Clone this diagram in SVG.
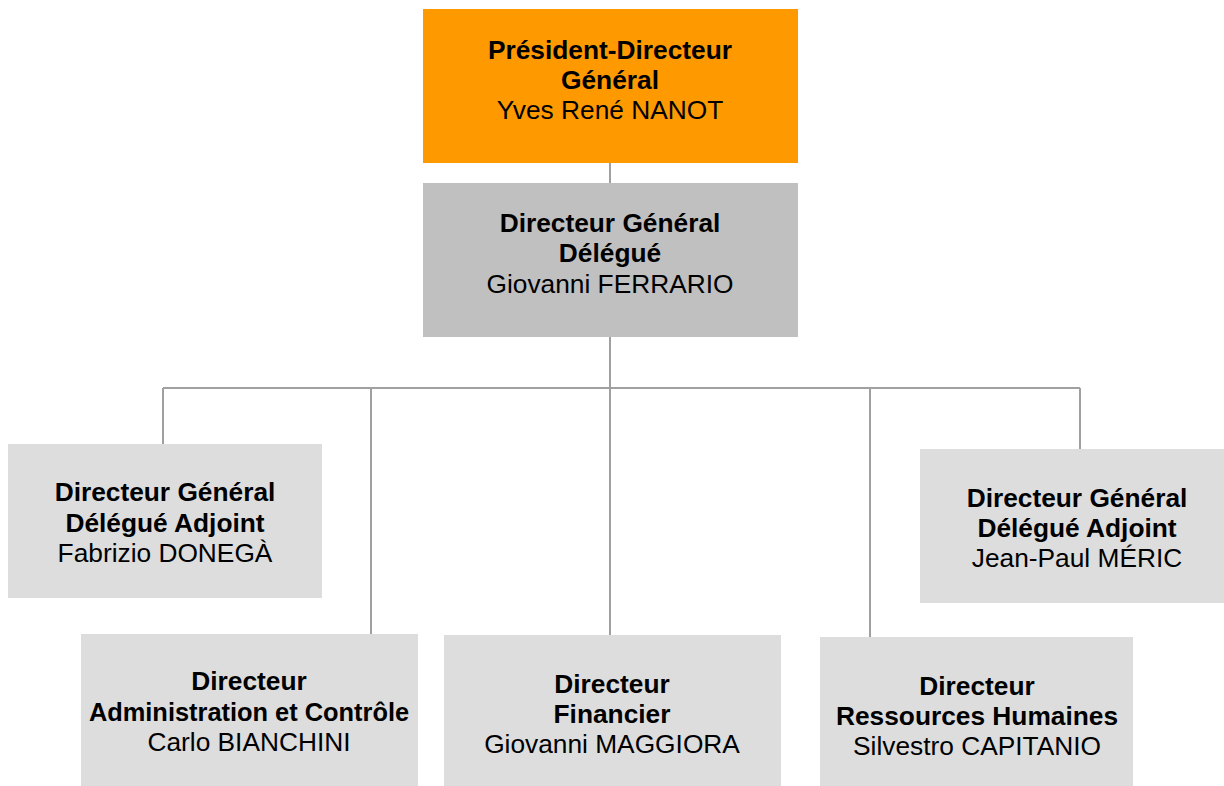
<svg xmlns="http://www.w3.org/2000/svg" width="1224" height="786" viewBox="0 0 1224 786">
<style>
.lv{fill:#DDDDDD}
.t{font-family:"Liberation Sans",Arial,sans-serif;font-size:26.3px;fill:#000;text-anchor:middle}
.b{font-weight:bold}
.c{stroke:#A0A0A0;stroke-width:2;fill:none}
</style>
<rect width="1224" height="786" fill="#fff"/>
<g id="connectors">
<line class="c" x1="610" y1="163" x2="610" y2="183"/>
<line class="c" x1="610" y1="337" x2="610" y2="635"/>
<line class="c" x1="163" y1="388" x2="1080" y2="388"/>
<line class="c" x1="163" y1="388" x2="163" y2="444"/>
<line class="c" x1="371" y1="388" x2="371" y2="634"/>
<line class="c" x1="870" y1="388" x2="870" y2="637"/>
<line class="c" x1="1080" y1="388" x2="1080" y2="449"/>
</g>
<g id="pdg">
<rect x="423" y="9" width="375" height="154" fill="#FF9900"/>
<text class="t b" x="610" y="59">Président-Directeur</text>
<text class="t b" x="610" y="89">Général</text>
<text class="t" x="610" y="119">Yves René NANOT</text>
</g>
<g id="dgd">
<rect x="423" y="183" width="375" height="154" fill="#C0C0C0"/>
<text class="t b" x="610" y="232">Directeur Général</text>
<text class="t b" x="610" y="262">Délégué</text>
<text class="t" x="610" y="293">Giovanni FERRARIO</text>
</g>
<g id="dgda1">
<rect class="lv" x="8" y="444" width="314" height="154"/>
<text class="t b" x="165" y="501">Directeur Général</text>
<text class="t b" x="165" y="532">Délégué Adjoint</text>
<text class="t" x="165" y="562">Fabrizio DONEGÀ</text>
</g>
<g id="dac">
<rect class="lv" x="81" y="634" width="337" height="154"/>
<text class="t b" x="249" y="690">Directeur</text>
<text class="t b" x="249" y="721" style="font-size:25.4px">Administration et Contrôle</text>
<text class="t" x="249" y="751">Carlo BIANCHINI</text>
</g>
<g id="df">
<rect class="lv" x="444" y="635" width="337" height="154"/>
<text class="t b" x="612" y="693">Directeur</text>
<text class="t b" x="612" y="723">Financier</text>
<text class="t" x="612" y="753">Giovanni MAGGIORA</text>
</g>
<g id="drh">
<rect class="lv" x="820" y="637" width="313" height="154"/>
<text class="t b" x="977" y="695">Directeur</text>
<text class="t b" x="977" y="725">Ressources Humaines</text>
<text class="t" x="977" y="755">Silvestro CAPITANIO</text>
</g>
<g id="dgda2">
<rect class="lv" x="920" y="449" width="314" height="154"/>
<text class="t b" x="1077" y="507">Directeur Général</text>
<text class="t b" x="1077" y="537">Délégué Adjoint</text>
<text class="t" x="1077" y="567">Jean-Paul MÉRIC</text>
</g>
</svg>
